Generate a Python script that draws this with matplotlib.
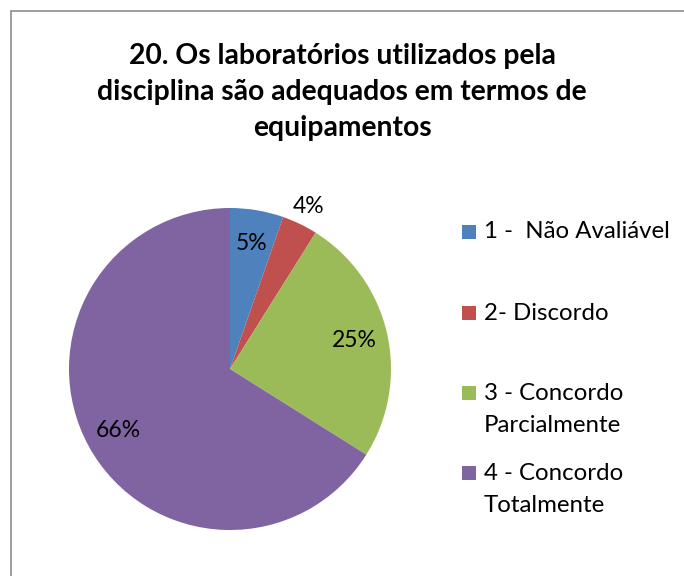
import matplotlib.pyplot as plt
from matplotlib.patches import Rectangle

# Data
categories = ['1 -  Não Avaliável', '2- Discordo', '3 - Concordo\nParcialmente', '4 - Concordo\nTotalmente']
counts = [3, 2, 14, 37]
colors = ['#4F81BD', '#C0504D', '#9BBB59', '#8064A2']
title = '20. Os laboratórios utilizados pela\ndisciplina são adequados em termos de\nequipamentos'

plt.rcParams['font.family'] = ['Lato', 'DejaVu Sans']

W, H = 684, 576
fig = plt.figure(figsize=(W / 100, H / 100), dpi=100)

# chart border (Excel style frame, right/bottom edges fall outside)
fig.patches.append(Rectangle((11 / W, -0.1), 1.2, (H - 11) / H + 0.1, transform=fig.transFigure,
                             fill=False, edgecolor='#8c8c8c', linewidth=1.2))

# Title
fig.text(342 / W, 1 - 92 / H, title, ha='center', va='center', fontsize=20.3,
         fontweight='bold', linespacing=1.48, color='black')

# Pie
cx, cy, r = 230, 369, 161
ax = fig.add_axes([(cx - r) / W, 1 - (cy + r) / H, 2 * r / W, 2 * r / H])
wedges, texts, autotexts = ax.pie(counts, colors=colors, startangle=90, counterclock=False,
                                  autopct=lambda p: f'{p:.0f}%', pctdistance=0.79,
                                  wedgeprops=dict(linewidth=0),
                                  textprops=dict(fontsize=16.5, color='black'))
ax.set_xlim(-1, 1)
ax.set_ylim(-1, 1)
ax.set_aspect('auto')

# small slice label placed outside
x, y = autotexts[1].get_position()
autotexts[1].set_position((x * 1.12 / 0.79, y * 1.12 / 0.79))

# Legend drawn by hand so the marker aligns with the first text line
entry_y = [232, 313, 393, 473]
line_gap = 32
for lab, col, ey in zip(categories, colors, entry_y):
    fig.patches.append(Rectangle((462 / W, 1 - (ey + 7) / H), 14 / W, 14 / H,
                                 transform=fig.transFigure, facecolor=col, edgecolor='none'))
    for i, line in enumerate(lab.split('\n')):
        fig.text(484 / W, 1 - (ey + i * line_gap) / H, line, ha='left', va='center',
                 fontsize=17.3, color='black')

fig.savefig('out.png', dpi=100)
